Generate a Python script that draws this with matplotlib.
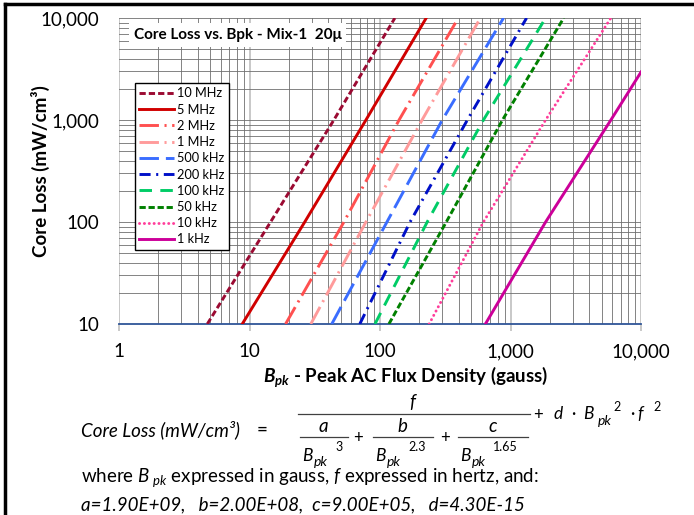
import matplotlib
matplotlib.use('Agg')
import matplotlib.pyplot as plt
from matplotlib.ticker import LogLocator, NullFormatter, FuncFormatter, FixedLocator
from matplotlib.lines import Line2D

plt.rcParams['font.family'] = ['Lato', 'DejaVu Sans']
plt.rcParams['mathtext.fontset'] = 'custom'
plt.rcParams['mathtext.rm'] = 'Lato'
plt.rcParams['mathtext.it'] = 'Lato:italic'
plt.rcParams['mathtext.bf'] = 'Lato:bold'
plt.rcParams['mathtext.bfit'] = 'Lato:bold:italic'
plt.rcParams['lines.scale_dashes'] = False

# valores: Bpk (gauss) onde cada curva cruza 10, 100, 1000 e 10000 mW/cm3
perdas = [10, 100, 1000, 10000]
bpk_10mhz = [4.75, 14.5, 44.3, 130]
bpk_5mhz = [8.8, 26.5, 78, 226]
bpk_2mhz = [18.9, 52.9, 140, 398]
bpk_1mhz = [29.5, 78, 210, 588]
bpk_500khz = [42.7, 113, 300, 884]
bpk_200khz = [70, 170, 467, 1328]
bpk_100khz = [91.5, 230, 620, 1858]
bpk_50khz = [117, 322, 868, 2557]
bpk_10khz = [238, 620, 1858, 5877]
# 1 kHz sai pela direita do gráfico
bpk_1khz = [642, 1858, 5877, 10000]
perdas_1khz = [10, 100, 1000, 2950]

rotulos = ['10 MHz', '5 MHz', '2 MHz', '1 MHz', '500 kHz', '200 kHz',
           '100 kHz', '50 kHz', '10 kHz', '1 kHz']
x_ticks = [1, 10, 100, 1000, 10000]
y_ticks = [10, 100, 1000, 10000]

series = [bpk_10mhz, bpk_5mhz, bpk_2mhz, bpk_1mhz, bpk_500khz, bpk_200khz,
          bpk_100khz, bpk_50khz, bpk_10khz, bpk_1khz]
valores_y = [perdas] * 9 + [perdas_1khz]

cores = ['#9b0a32', '#d00000', '#ff5050', '#ff9b9b', '#3a6dff', '#0010c8',
         '#00cc66', '#008000', '#ff3d9a', '#cc0099']
tracos = [(0, (4.5, 2.2)), '-', (0, (14, 4, 1.5, 4)), (0, (14, 4, 1.5, 4)),
          (0, (14, 5)), (0, (8, 4, 1.5, 4)), (0, (9, 6)), (0, (4.5, 2)),
          (0, (0.1, 3.4)), '-']

W, H = 694, 515
fig = plt.figure(figsize=(W / 100, H / 100), dpi=100)
ax = fig.add_axes([119 / W, 1 - 324 / H, 522 / W, 306 / H])

def px(x, y):
    return x / W, 1 - y / H

for b, l, cor, ls, rot in zip(series, valores_y, cores, tracos, rotulos):
    ax.plot(b, l, color=cor, linestyle=ls, lw=2.1, label=rot,
            dash_capstyle='round' if rot == '10 kHz' else 'butt', zorder=3)

ax.set_xscale('log')
ax.set_yscale('log')
ax.set_xlim(1, 10000)
ax.set_ylim(10, 10000)

fmt = FuncFormatter(lambda v, p: '{:,.0f}'.format(v))
ax.xaxis.set_major_locator(FixedLocator(x_ticks))
ax.yaxis.set_major_locator(FixedLocator(y_ticks))
ax.xaxis.set_major_formatter(fmt)
ax.yaxis.set_major_formatter(fmt)
ax.xaxis.set_minor_locator(LogLocator(base=10, subs=range(2, 10)))
ax.yaxis.set_minor_locator(LogLocator(base=10, subs=range(2, 10)))
ax.xaxis.set_minor_formatter(NullFormatter())
ax.yaxis.set_minor_formatter(NullFormatter())

ax.tick_params(axis='x', which='major', length=5, color='#c0c0c0', width=1.2,
               labelsize=13.5, pad=9)
ax.tick_params(axis='y', which='major', length=0, labelsize=13.5, pad=14)
ax.tick_params(which='minor', length=0)

ax.grid(True, axis='x', which='major', color='#c4c4c4', lw=1.3, zorder=0)
ax.grid(True, axis='x', which='minor', color='#6f6f6f', lw=0.6, zorder=0)
ax.grid(True, axis='y', which='both', color='#6f6f6f', lw=0.6, zorder=0)
ax.set_axisbelow(True)

for lado in ['top', 'right', 'left']:
    ax.spines[lado].set_visible(False)
ax.spines['bottom'].set_color('#2f5597')
ax.spines['bottom'].set_linewidth(1.3)

ax.set_ylabel('Core Loss (mW/cm³)', fontsize=13.5, fontweight='bold')
ax.yaxis.set_label_coords(-79 / 522, 0.5)
ax.yaxis.label.set_va('center')
ax.set_xlabel(r'$\mathbfit{B}_{\mathbfit{pk}}$ - Peak AC Flux Density (gauss)',
              fontsize=13.5, fontweight='bold')
ax.xaxis.set_label_coords((406 - 119) / 522, -(377 - 324) / 306)
ax.xaxis.label.set_va('center')

ax.text(*px(134, 35), 'Core Loss vs. Bpk - Mix-1  20μ', transform=fig.transFigure,
        fontsize=11, fontweight='bold', ha='left', va='center', zorder=6,
        bbox=dict(boxstyle='square,pad=0.3', fc='white', ec='none'))

leg = ax.legend(loc='upper left', bbox_to_anchor=px(135, 83), bbox_transform=fig.transFigure,
                fontsize=9.2, handlelength=2.7, handletextpad=0.25, labelspacing=0.33,
                borderpad=0.35, borderaxespad=0, fancybox=False, framealpha=1,
                edgecolor='black')
leg.get_frame().set_linewidth(1.0)
leg.set_zorder(6)

# fórmula abaixo do gráfico
def t(x, y, s, size=13.5, ha='left', style='italic'):
    fig.text(*px(x, y), s, fontsize=size, ha=ha, va='center', style=style)

def barra(x0, x1, y):
    fig.add_artist(Line2D([x0 / W, x1 / W], [1 - y / H, 1 - y / H], color='#404040', lw=0.9))

t(81, 430, 'Core Loss (mW/cm³)')
t(262, 430, '=', ha='center', style='normal')
barra(298, 530, 414)
t(412, 403, 'f', ha='center')
for xc, x0, x1, letra, expo in [(323, 300, 348, 'a', '3'), (402, 373, 433, 'b', '2.3'),
                                 (493, 458, 528, 'c', '1.65')]:
    t(xc, 426, letra, ha='center')
    barra(x0, x1, 437)
    t(x0 + 2, 456, 'B', size=12.5)
    t(x0 + 14, 462, 'pk', size=10)
    t(x0 + 35, 447, expo, size=9, style='normal')
t(358, 438, '+', size=12, ha='center', style='normal')
t(445, 438, '+', size=12, ha='center', style='normal')
t(538, 415, '+', size=12, ha='center', style='normal')
t(558, 414, 'd', size=12.5, ha='center')
t(573, 414, '·', size=12, ha='center', style='normal')
t(583, 414, 'B', size=12.5)
t(598, 421, 'pk', size=10)
t(617, 407, '2', size=9, ha='center', style='normal')
t(632, 414, '·', size=12, ha='center', style='normal')
t(640, 414, 'f', size=12.5, ha='center')
t(657, 407, '2', size=9, ha='center', style='normal')

t(81, 478, r'where $B_{\ pk}$ expressed in gauss, $f$ expressed in hertz, and:', style='normal')
t(81, 505, 'a=1.90E+09,   b=2.00E+08,  c=9.00E+05,   d=4.30E-15')

# moldura parcial (esquerda e topo)
fig.add_artist(Line2D([5 / W, 5 / W], [0, 1 - 4 / H], color='black', lw=2.5))
fig.add_artist(Line2D([5 / W, 1], [1 - 4 / H, 1 - 4 / H], color='black', lw=2.5))

fig.savefig('out.png', dpi=100)
